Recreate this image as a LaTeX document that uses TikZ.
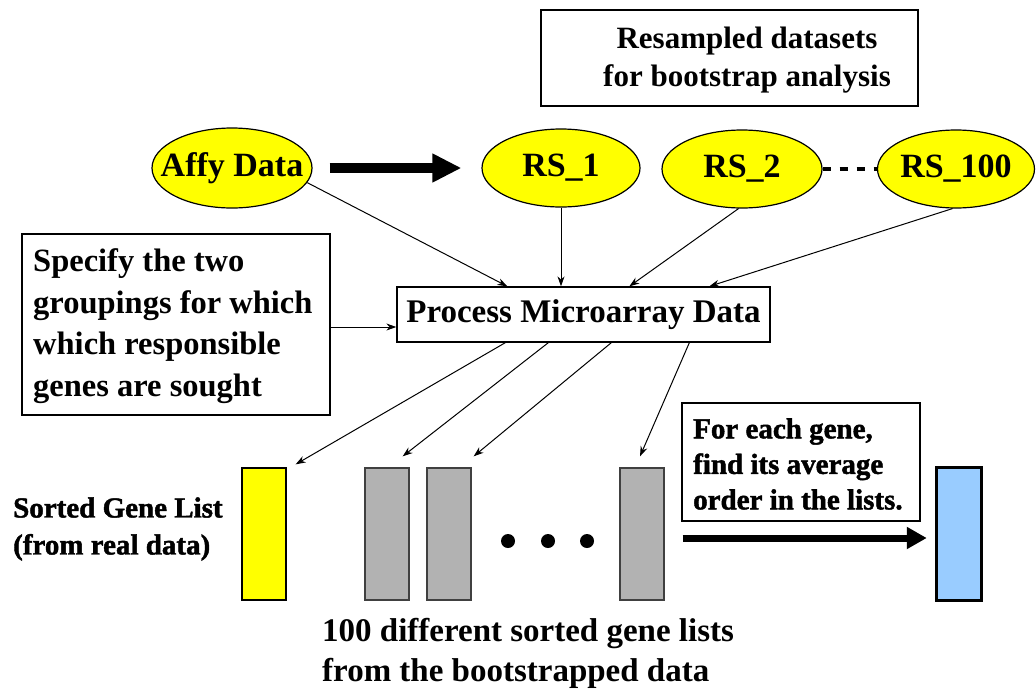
\documentclass[tikz,border=0pt]{standalone}
\usepackage{fontspec}
\setmainfont{Liberation Serif}
\newfontfamily\heavy[FakeBold=1.5]{Liberation Serif Bold}
\usetikzlibrary{arrows.meta,shapes.geometric}
\definecolor{ylw}{RGB}{255,255,0}
\definecolor{gry}{RGB}{178,178,178}
\definecolor{lblue}{RGB}{153,204,255}
\begin{document}
\begin{tikzpicture}[x=1pt,y=-1pt,
  txt/.style={font=\fontsize{33}{41.5}\selectfont\bfseries},
  oval/.style={ellipse, draw, fill=ylw, line width=1.2pt, inner ysep=0pt, inner xsep=-16pt, minimum width=158pt, minimum height=80pt, font=\fontsize{34}{40}\selectfont\bfseries},
  box/.style={draw, line width=1.3pt, inner sep=0pt},
  bar/.style={draw, line width=1.3pt, minimum width=44pt, minimum height=132pt, inner sep=0pt},
  arr/.style={-{Stealth[length=10pt,width=7pt]}, line width=1pt},
  bigarr/.style={line width=10pt, -{Triangle[length=29pt,width=27pt]}},
  bigarrb/.style={line width=7pt, -{Triangle[length=20pt,width=21pt]}},
]
\useasboundingbox[fill=white] (0,0) rectangle (1036,691);

% top label box
\node[box, minimum width=377pt, minimum height=96pt] (rsbox) at (729.5,58) {};
\node[align=center, inner sep=0pt, font=\fontsize{31}{38}\selectfont\bfseries] (rstext) at (747,60) {Resampled datasets\\for bootstrap analysis};

% ellipses
\node[oval, minimum width=160pt] (affy) at (232,168) {Affy Data};
\node[oval, minimum width=158pt, minimum height=78pt] (rs1) at (561,168) {RS\_1};
\node[oval, minimum width=160pt, minimum height=78pt] (rs2) at (742,169) {RS\_2};
\node[oval, minimum width=157pt, minimum height=78pt] (rs100) at (956,169) {RS\_100};

\draw[bigarr] ([xshift=17pt]affy.east) -- ([xshift=-20pt]rs1.west);
\draw[line width=4pt, dash pattern=on 8pt off 9pt] (rs2.east) -- (rs100.west);

% process box
\node[box, txt, minimum width=373pt, minimum height=55pt] (proc) at (583.5,314.5) {Process Microarray Data};

% specify box
\node[box, minimum width=308pt, minimum height=181pt] (spec) at (176,324.5) {};
\node[anchor=west, align=left, inner sep=0pt, font=\fontsize{32.5}{41.7}\selectfont\bfseries] (spectext) at (33,326)
  {Specify the two\\groupings for which\\which responsible\\genes are sought};

% arrows into process
\draw[arr] (affy.-11) -- ([xshift=111pt]proc.north west);
\draw[arr] (rs1.south) -- (rs1.south |- proc.north);
\draw[arr] (rs2.265) -- ([xshift=233pt]proc.north west);
\draw[arr] (rs100.265) -- ([xshift=313pt]proc.north west);
\draw[arr] ([yshift=-2.5pt]spec.east) -- ([yshift=-2.5pt]spec.east -| proc.west);

% bars
\node[bar, fill=ylw, draw=black] (ybar) at (264,534) {};
\node[bar, fill=gry, draw=black!75] (g1) at (387,534) {};
\node[bar, fill=gry, draw=black!75] (g2) at (449,534) {};
\node[bar, fill=gry, draw=black!75] (g3) at (642,534) {};
\node[draw, line width=3.5pt, fill=lblue, minimum width=45pt, minimum height=133pt, inner sep=0pt] (blue) at (959,534) {};

% dots
\fill (508,541) circle (7pt);
\fill (548,541) circle (7pt);
\fill (587,541) circle (7pt);

% arrows out of process
\draw[arr] ([xshift=109pt]proc.south west) -- ([shift={(9pt,3pt)}]ybar.north east);
\draw[arr] ([xshift=152pt]proc.south west) -- ([shift={(-7pt,11pt)}]g1.north east);
\draw[arr] ([xshift=215pt]proc.south west) -- ([shift={(2pt,11pt)}]g2.north east);
\draw[arr] ([xshift=293pt]proc.south west) -- ([shift={(-2pt,11pt)}]g3.north);

% final arrow
\draw[bigarrb] ([shift={(18pt,-4pt)}]g3.east) -- ([shift={(-8pt,-4pt)}]blue.west);

% average box
\node[box, minimum width=238pt, minimum height=118pt] (avg) at (801,462) {};
\node[anchor=west, align=left, inner sep=0pt, font=\heavy\fontsize{29}{35.5}\selectfont] (avgtext) at (693,464)
  {For each gene,\\find its average\\order in the lists.};

% labels
\node[anchor=west, align=left, inner sep=0pt, font=\heavy\fontsize{29}{37}\selectfont] (sorted) at (13,529)
  {Sorted Gene List\\(from real data)};
\node[anchor=west, align=left, inner sep=0pt, font=\fontsize{33}{40}\selectfont\bfseries] (hundred) at (322,653)
  {100 different sorted gene lists\\from the bootstrapped data};
\end{tikzpicture}
\end{document}
